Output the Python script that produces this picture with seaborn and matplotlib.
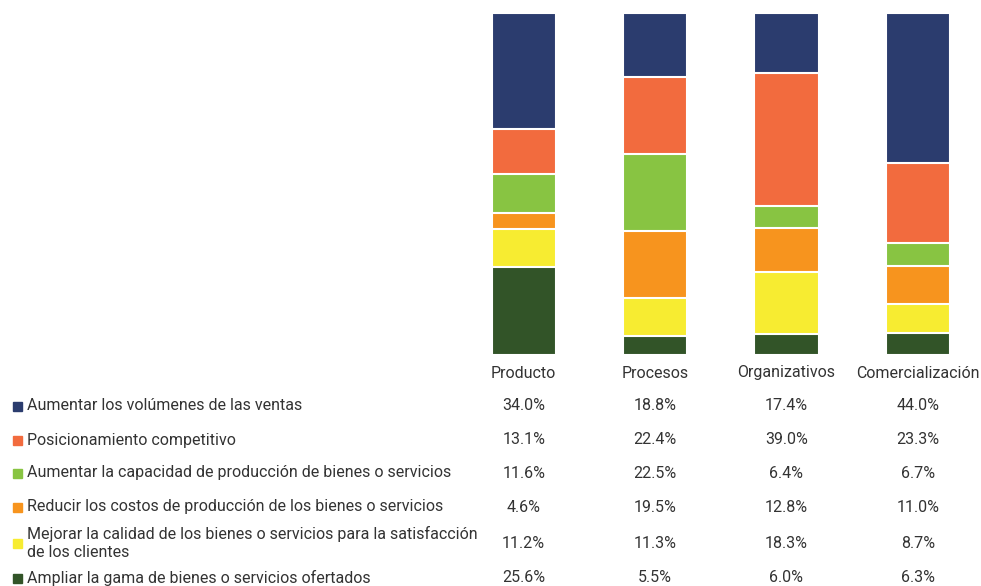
import matplotlib.pyplot as plt
import seaborn as sns
import pandas as pd
import numpy as np

categorias = ["Producto", "Procesos", "Organizativos", "Comercialización"]

# objetivos, de arriba hacia abajo como en la tabla
objetivos = [
    "Aumentar los volúmenes de las ventas",
    "Posicionamiento competitivo",
    "Aumentar la capacidad de producción de bienes o servicios",
    "Reducir los costos de producción de los bienes o servicios",
    "Mejorar la calidad de los bienes o servicios para la satisfacción\nde los clientes",
    "Ampliar la gama de bienes o servicios ofertados",
]
volumenes = [34.0, 18.8, 17.4, 44.0]
posicionamiento = [13.1, 22.4, 39.0, 23.3]
capacidad = [11.6, 22.5, 6.4, 6.7]
costos = [4.6, 19.5, 12.8, 11.0]
calidad = [11.2, 11.3, 18.3, 8.7]
gama = [25.6, 5.5, 6.0, 6.3]

colores = ["#2B3C6E", "#F26B3E", "#88C442", "#F7941E", "#F7EC31", "#325428"]

sns.set_theme(style="white")
plt.rcParams["font.family"] = ["Roboto", "DejaVu Sans"]

series = [volumenes, posicionamiento, capacidad, costos, calidad, gama]
df = pd.DataFrame(series, index=objetivos, columns=categorias)

fig = plt.figure(figsize=(9.81, 5.86), dpi=100)
ax = fig.add_axes([458 / 981, 231 / 586, 519 / 981, 342 / 586])

# barras apiladas: se dibuja el acumulado desde arriba hacia abajo
acum = df.iloc[::-1].cumsum().iloc[::-1]
for i, obj in enumerate(objetivos):
    d = pd.DataFrame({"cat": categorias, "val": acum.loc[obj].values})
    sns.barplot(data=d, x="cat", y="val", color=colores[i], width=0.49,
                edgecolor="white", linewidth=1.5, saturation=1, ax=ax)

ax.set_ylim(0, 100)
ax.set_xlim(-0.5, 3.45)
ax.set_axis_off()

txt = "#333333"
fs = 11.5
# encabezados de columnas
for j, c in enumerate(categorias):
    xf = ax.transData.transform((j, 0))[0] / fig.bbox.width
    fig.text(xf, 1 - 373 / 586, c, ha="center", va="center", fontsize=fs, color=txt)

filas_y = [406, 440, 473, 507, 543, 578]
for i, obj in enumerate(objetivos):
    yf = 1 - filas_y[i] / 586
    fig.patches.append(plt.Rectangle((13 / 981, yf - 4.5 / 586), 9 / 981, 9 / 586,
                                     transform=fig.transFigure, color=colores[i]))
    fig.text(27 / 981, yf, obj, ha="left", va="center", fontsize=fs, color=txt,
             linespacing=1.3)
    for j in range(len(categorias)):
        xf = ax.transData.transform((j, 0))[0] / fig.bbox.width
        fig.text(xf, yf, f"{df.iloc[i, j]:.1f}%", ha="center", va="center",
                 fontsize=fs, color=txt)

fig.savefig("out.png", dpi=100)
